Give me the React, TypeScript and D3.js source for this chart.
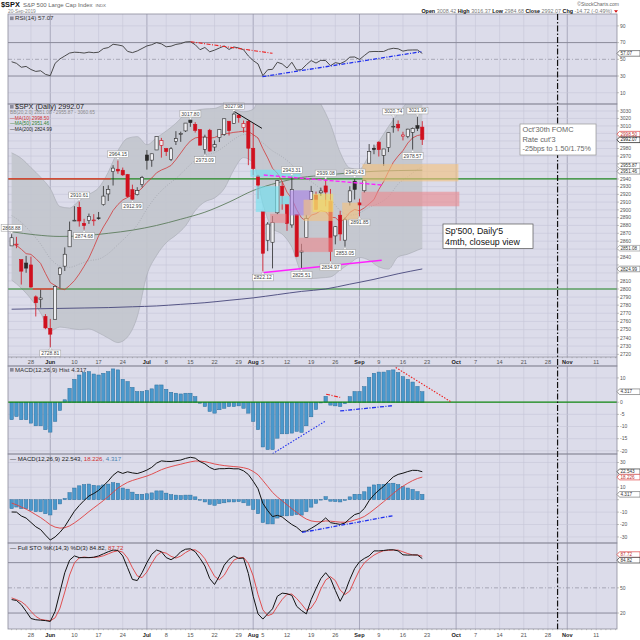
import React, { useRef, useLayoutEffect } from "react";
import * as d3 from "d3";

// trading calendar shown on the x axis (bars + projected days)
const firstDay = "2019-05-21";
const lastDay = "2019-11-15";
const holidays = ["2019-05-27", "2019-07-04", "2019-09-02"];

const prevClose = 2840.23;
const opens = [
  2854.02, 2856.06, 2836.7, 2832.41, 2830.03, 2790.25, 2786.94, 2766.15, 2751.53, 2762.64,
  2818.09, 2828.51, 2852.87, 2885.83, 2903.27, 2882.73, 2886.24, 2886.82, 2889.75, 2906.71,
  2920.55, 2949.6, 2952.71, 2951.42, 2945.78, 2926.07, 2919.66, 2932.94, 2971.41, 2964.66,
  2978.08, 2984.25, 2979.77, 2965.52, 2989.3, 2999.62, 3003.36, 3017.8, 3012.13, 3005.1,
  2978.87, 3004.26, 2981.93, 2994.74, 2998.77, 3016.26, 3013.25, 3024.47, 3007.66, 3016.22,
  2980.32, 2943.9, 2898.07, 2861.18, 2858.65, 2896.21, 2930.51, 2907.07, 2880.72, 2894.15,
  2846.2, 2864.74, 2913.48, 2919.01, 2922.04, 2930.94, 2911.07, 2866.7, 2893.14, 2861.28,
  2910.37, 2937.09, 2909.01, 2924.67, 2960.6, 2980.33, 2988.43, 2971.01, 2981.41, 3009.08,
  3012.21, 2996.41, 2995.67, 3001.5, 3010.36, 3008.42,
];
const highs = [
  2868.88, 2865.47, 2836.7, 2841.36, 2840.51, 2792.03, 2799.0, 2768.98, 2763.07, 2804.49,
  2827.28, 2852.1, 2884.97, 2904.77, 2910.61, 2888.57, 2895.24, 2894.45, 2897.27, 2930.79,
  2931.74, 2958.06, 2964.15, 2954.92, 2946.52, 2932.59, 2929.3, 2943.98, 2977.93, 2973.21,
  2995.84, 2994.03, 2980.76, 2981.9, 3002.98, 3002.33, 3013.92, 3017.8, 3015.02, 3005.26,
  2998.28, 3006.02, 2990.71, 3005.9, 3019.59, 3016.31, 3027.98, 3025.61, 3017.19, 3017.4,
  3013.59, 2945.5, 2898.07, 2884.4, 2892.17, 2938.72, 2935.75, 2907.58, 2943.31, 2894.15,
  2856.67, 2893.63, 2931.0, 2923.63, 2928.73, 2939.08, 2927.01, 2879.27, 2898.79, 2890.03,
  2930.5, 2940.43, 2914.39, 2938.84, 2985.86, 2985.03, 2989.43, 2979.39, 3000.93, 3020.74,
  3017.33, 3002.19, 3006.21, 3007.83, 3021.99, 3016.37,
];
const lows = [
  2854.02, 2851.11, 2805.49, 2820.19, 2801.58, 2766.06, 2776.74, 2750.52, 2728.81, 2762.64,
  2800.92, 2822.45, 2852.87, 2885.51, 2878.53, 2874.68, 2881.99, 2879.62, 2887.3, 2905.44,
  2911.43, 2931.5, 2946.87, 2944.05, 2916.01, 2912.99, 2918.57, 2929.05, 2952.22, 2955.92,
  2977.96, 2967.97, 2970.09, 2963.44, 2984.62, 2988.8, 3001.87, 3008.77, 3001.15, 2984.25,
  2973.09, 2975.86, 2976.65, 2988.56, 2996.82, 2997.24, 3012.59, 3014.3, 3000.94, 2958.08,
  2945.23, 2914.11, 2822.12, 2847.42, 2825.71, 2894.47, 2900.15, 2873.14, 2877.05, 2839.64,
  2825.51, 2864.74, 2913.48, 2899.6, 2917.91, 2904.51, 2834.97, 2856.0, 2860.59, 2853.05,
  2905.67, 2913.32, 2891.85, 2921.86, 2960.6, 2972.51, 2969.39, 2957.01, 2975.31, 3000.92,
  3002.9, 2990.67, 2993.73, 2978.57, 3003.16, 2984.68,
];
const closes = [
  2864.36, 2856.27, 2822.24, 2826.06, 2802.39, 2783.02, 2788.86, 2752.06, 2744.45, 2803.27,
  2826.15, 2843.49, 2873.34, 2886.73, 2885.72, 2879.84, 2891.64, 2886.98, 2889.67, 2917.75,
  2926.46, 2954.18, 2950.46, 2945.35, 2917.38, 2913.78, 2924.92, 2941.76, 2964.33, 2973.01,
  2995.82, 2990.41, 2975.95, 2979.63, 2993.07, 2999.91, 3013.77, 3014.3, 3004.04, 2984.42,
  2995.11, 2976.61, 2985.03, 3005.47, 3019.56, 3003.67, 3025.86, 3020.97, 3013.18, 2980.38,
  2953.56, 2932.05, 2844.74, 2881.77, 2883.98, 2938.09, 2918.65, 2882.7, 2926.32, 2840.6,
  2847.6, 2888.68, 2923.65, 2900.51, 2924.43, 2922.95, 2847.11, 2878.38, 2869.16, 2887.94,
  2924.58, 2926.46, 2906.27, 2937.78, 2976.0, 2978.71, 2978.43, 2979.39, 3000.93, 3009.57,
  3007.39, 2997.96, 3005.7, 3006.73, 3006.79, 2992.07,
];

const ma10 = [
  2856.9, 2854.6, 2849.8, 2844.2, 2843.3, 2838.1, 2831.9, 2819.5, 2808.0, 2804.3,
  2800.5, 2799.2, 2804.3, 2810.4, 2818.7, 2828.4, 2838.7, 2852.2, 2866.7, 2878.1,
  2888.2, 2899.2, 2906.9, 2912.8, 2916.0, 2919.4, 2922.7, 2928.2, 2935.6, 2941.2,
  2948.1, 2951.7, 2954.3, 2957.7, 2965.3, 2973.9, 2982.8, 2990.0, 2994.0, 2995.1,
  2995.1, 2993.7, 2994.6, 2997.2, 2999.8, 3000.2, 3001.4, 3002.1, 3003.0, 3002.6,
  2998.4, 2994.0, 2979.9, 2967.6, 2954.0, 2947.5, 2936.7, 2922.9, 2914.2, 2900.2,
  2889.7, 2885.3, 2893.2, 2895.1, 2899.1, 2897.6, 2890.5, 2890.0, 2884.3, 2889.0,
  2896.7, 2900.5, 2898.8, 2902.5, 2907.7, 2913.2, 2926.4, 2936.5, 2949.6, 2961.8,
  2970.1, 2977.2, 2987.2, 2994.1, 2997.2, 2998.5,
];

// long averages
const maDays = [0, 5, 10, 15, 20, 25, 30, 35, 40, 45, 50, 55, 60, 65, 70, 75, 80, 85];
const ma50 = [2872, 2868, 2866, 2867, 2870, 2874, 2880, 2888, 2897, 2910, 2925, 2935, 2942, 2945, 2948, 2950, 2951, 2951.46];
const ma200 = [2775, 2775.5, 2776, 2776.5, 2777, 2778, 2779, 2781, 2783, 2786, 2789, 2793, 2797, 2800, 2806, 2812, 2819, 2824.99];

// Bollinger bands (20,2)
const bbDays = [0, 2, 4, 6, 8, 10, 12, 14, 16, 18, 20, 22, 24, 26, 28, 30, 32, 34, 36, 38, 40, 42, 44, 46, 48, 50, 52, 54, 56, 58, 60, 62, 64, 66, 68, 70, 72, 74, 76, 78, 80, 82, 84, 85];
const bbMid = [
  2892.7, 2884.0, 2871.3, 2856.4, 2838.1, 2828.7, 2827.0, 2831.0, 2835.3, 2837.3, 2844.3, 2855.6, 2867.3, 2880.7, 2901.2,
  2918.1, 2930.6, 2940.6, 2952.7, 2964.8, 2971.6, 2974.4, 2982.5, 2992.1, 2998.5, 2996.7, 2987.3, 2976.9, 2969.1, 2958.6,
  2944.0, 2936.6, 2926.6, 2913.6, 2899.3, 2893.2, 2896.0, 2903.4, 2908.4, 2917.0, 2933.4, 2943.0, 2952.4, 2955.87,
];
const bbUpper = [
  2974.3, 2967, 2954.9, 2942.4, 2927.5, 2904.3, 2902.4, 2912, 2920, 2928.5, 2948.9, 2977, 2993.5, 2995.7, 2985,
  2994.3, 3003.2, 3013.6, 3025.9, 3030.6, 3032.8, 3033.4, 3037.7, 3032, 3029, 3032.3, 3066.9, 3077.7, 3069.3, 3064.8,
  3067.6, 3060.2, 3039.4, 3012.2, 2974.9, 2954.4, 2952.6, 2971, 2989.2, 3009.2, 3026.6, 3042.4, 3056.2, 3060.65,
];
const bbLower = [
  2811.1, 2801, 2787.7, 2770.4, 2748.7, 2753.1, 2751.6, 2750, 2750.7, 2746.1, 2739.7, 2734.2, 2741.1, 2765.7, 2817.4,
  2841.9, 2858, 2867.6, 2879.5, 2899, 2910.4, 2915.4, 2927.3, 2952, 2968, 2961.1, 2907.7, 2876.1, 2868.9, 2852.4,
  2820.4, 2813, 2813.8, 2815, 2823.7, 2832, 2839.4, 2835.8, 2827.6, 2824.8, 2840.2, 2843.6, 2848.6, 2851.08,
];

const rsi = [
  47.1, 45.2, 40.5, 41.5, 37.8, 35.5, 36.3, 32.0, 30.4, 45.2,
  50.5, 54.0, 57.5, 58.5, 58.2, 57.5, 58.6, 57.9, 58.5, 62.8,
  64.0, 68.0, 67.2, 66.0, 59.5, 58.0, 60.0, 63.0, 66.0, 67.5,
  70.0, 68.5, 65.0, 65.7, 67.8, 68.8, 70.8, 71.1, 67.5, 61.5,
  64.2, 59.0, 61.0, 63.5, 66.0, 61.8, 64.8, 63.6, 61.5, 54.0,
  48.5, 44.5, 30.4, 37.5, 38.0, 46.5, 44.5, 39.6, 46.5, 37.0,
  37.8, 43.5, 48.5, 45.5, 48.8, 48.5, 42.3, 46.0, 44.8, 47.5,
  52.6, 52.8, 49.8, 54.5, 59.0, 59.4, 59.3, 59.4, 62.0, 63.2,
  62.6, 59.8, 61.0, 61.2, 61.2, 57.07,
];

const macdHist = [
  -7.2, -5.9, -7.2, -7.2, -8.6, -9.7, -9.7, -11.3, -12.3, -7.9,
  -3.4, 1.0, 5.7, 9.4, 11.2, 12.2, 12.6, 11.6, 11.2, 11.9,
  12.6, 13.7, 13.3, 9.4, 8.5, 6.1, 4.4, 4.4, 4.8, 5.5,
  7.1, 7.1, 5.3, 4.1, 3.7, 3.4, 3.7, 3.7, 2.3, -0.4,
  -1.8, -3.8, -4.5, -3.1, -2.5, -1.8, -1.8, -1.5, -2.5, -4.5,
  -7.9, -11.3, -18.4, -19.5, -19.5, -14.8, -13.0, -13.0, -12.7, -12.0,
  -12.4, -9.7, -6.0, -3.0, -0.3, 2.4, -1.2, -1.5, -1.8, -0.6,
  2.3, 4.4, 4.4, 6.4, 10.2, 11.9, 12.4, 12.4, 13.0, 13.3,
  12.2, 10.5, 9.4, 8.3, 6.5, 4.317,
];
const macdLine = [
  -9.9, -10.0, -13.1, -14.8, -18.3, -21.8, -24.1, -28.5, -32.5, -30.0,
  -26.3, -21.6, -15.4, -9.3, -4.7, -0.6, 3.0, 5.0, 7.5, 11.2,
  15.1, 19.7, 22.7, 21.2, 22.5, 21.6, 21.1, 22.3, 23.9, 26.1,
  29.5, 31.3, 30.9, 30.8, 31.4, 32.0, 33.3, 34.2, 33.5, 30.7,
  28.9, 26.0, 24.3, 25.0, 25.0, 25.3, 24.9, 24.9, 23.3, 20.3,
  14.9, 8.8, -2.9, -8.8, -13.6, -12.6, -13.9, -17.1, -20.0, -22.2,
  -25.6, -25.3, -23.1, -20.7, -18.1, -14.7, -18.5, -19.2, -19.9, -18.8,
  -15.2, -12.0, -10.8, -7.1, -0.7, 4.0, 7.6, 10.8, 14.7, 18.4,
  20.4, 21.4, 22.7, 23.7, 23.6, 22.543,
];
const macdSignal = [
  -2.7, -4.1, -5.9, -7.6, -9.7, -12.1, -14.4, -17.2, -20.2, -22.1,
  -22.9, -22.6, -21.1, -18.7, -15.9, -12.8, -9.6, -6.6, -3.7, -0.7,
  2.5, 6.0, 9.4, 11.8, 14.0, 15.5, 16.7, 17.9, 19.1, 20.6,
  22.4, 24.2, 25.6, 26.7, 27.7, 28.6, 29.6, 30.5, 31.2, 31.1,
  30.7, 29.8, 28.8, 28.1, 27.5, 27.1, 26.7, 26.4, 25.8, 24.8,
  22.8, 20.1, 15.5, 10.7, 5.9, 2.2, -0.9, -4.1, -7.3, -10.2,
  -13.2, -15.6, -17.1, -17.7, -17.8, -17.1, -17.3, -17.7, -18.1, -18.2,
  -17.5, -16.4, -15.2, -13.5, -10.9, -7.9, -4.8, -1.6, 1.7, 5.1,
  8.2, 10.9, 13.3, 15.4, 17.1, 18.226,
];

const stoK = [
  36, 35, 30, 22, 13.5, 12, 11.5, 11, 10, 22,
  45, 68, 83, 88, 86, 86, 86, 86.5, 88, 90.5,
  93, 95, 94.5, 88, 74, 60, 58.7, 68, 80, 90,
  95, 93, 86, 83.5, 87, 93, 96, 96.5, 93, 85,
  76, 61, 54, 64, 77, 84, 88, 85, 85.5, 67,
  40, 19, 12.8, 19, 25, 40, 43.7, 43, 41, 28,
  23, 19, 36, 49, 61, 68, 61, 47, 34, 45,
  60, 73, 81, 85, 88, 94, 94, 94.5, 95.3, 95.3,
  94, 89.3, 89, 89.2, 89.1, 84.82,
];
const stoD = [
  38, 36, 33.5, 29, 22, 16, 12.5, 11.5, 10.8, 14.3,
  25.7, 45, 65.3, 79.7, 85.7, 86.7, 86, 86.2, 86.8, 88.2,
  90.5, 92.8, 94.2, 92.5, 85.5, 74, 64.2, 62.2, 68.9, 79.3,
  88.3, 92.7, 91.3, 87.5, 85.5, 87.8, 92, 95.2, 95.2, 91.5,
  84.7, 74, 63.7, 59.7, 65, 75, 83, 85.7, 86.2, 79.2,
  64.2, 42, 23.9, 16.9, 18.9, 28, 36.2, 42.2, 42.6, 37.3,
  30.7, 23.3, 26, 34.7, 48.7, 59.3, 63.3, 58.7, 47.3, 42,
  46.3, 59.3, 71.3, 79.7, 84.7, 89, 92, 94.2, 94.6, 95,
  94.9, 92.9, 90.8, 89.2, 89.1, 87.72,
];

const dateTicks: [string, string][] = [
  ["2019-05-28", "28"], ["2019-06-03", "Jun"], ["2019-06-10", "10"], ["2019-06-17", "17"], ["2019-06-24", "24"],
  ["2019-07-01", "Jul"], ["2019-07-08", "8"], ["2019-07-15", "15"], ["2019-07-22", "22"], ["2019-07-29", "29"],
  ["2019-08-01", "Aug"], ["2019-08-05", "5"], ["2019-08-12", "12"], ["2019-08-19", "19"], ["2019-08-26", "26"],
  ["2019-09-03", "Sep"], ["2019-09-09", "9"], ["2019-09-16", "16"], ["2019-09-23", "23"],
  ["2019-10-01", "Oct"], ["2019-10-07", "7"], ["2019-10-14", "14"], ["2019-10-21", "21"], ["2019-10-28", "28"],
  ["2019-11-01", "Nov"], ["2019-11-11", "11"],
];
const monthLabels = ["Jun", "Jul", "Aug", "Sep", "Oct", "Nov"];
const eventDay = "2019-10-30";

const priceTicks = [
  2720, 2730, 2740, 2750, 2760, 2770, 2780, 2790, 2800, 2810, 2820, 2830, 2840, 2850, 2860, 2870,
  2880, 2890, 2900, 2910, 2920, 2930, 2940, 2950, 2960, 2970, 2980, 2990, 3000, 3010, 3020, 3030,
];
const rsiTicks = [90, 70, 50, 30, 10];
const histTicks = [10, 0, -5, -10, -15, -20];
const macdTicks = [30, 20, 10, 0, -10, -20, -30];
const stoTicks = [80, 50, 20];

// last values shown as tags on the right axis
const priceTags = [2998.5, 2992.07, 2955.87, 2951.46, 2851.08, 2824.99];
const macdTags = [22.543, 18.226, 4.317];
const stoTags = [87.72, 84.82];

// labelled swing highs / lows
const swingDays = [0, 8, 14, 15, 22, 25, 37, 40, 46, 52, 58, 60, 65, 66, 69, 71, 72, 79, 83, 84];
const swingIsHigh = [1, 0, 1, 0, 1, 0, 1, 0, 1, 0, 1, 0, 1, 0, 0, 1, 0, 1, 0, 1];

// hand-drawn zones: [day0, day1, price0, price1, kind]
const zones: [number, number, number, number, string][] = [
  [49.5, 59.7, 2951.7, 2943.0, "cyan"],
  [50.6, 55.2, 2930.0, 2897.6, "cyan"],
  [55.6, 57.4, 2917.0, 2907.5, "cyan"],
  [57.6, 61.8, 2924.7, 2893.3, "purple"],
  [53.6, 56.8, 2894.6, 2883.5, "red"],
  [60.5, 66.5, 2912.7, 2886.0, "orange"],
  [62.4, 66.5, 2920.4, 2897.6, "yellow"],
  [59.5, 66.5, 2864.0, 2846.6, "red"],
  [68.5, 71.7, 2908.8, 2887.0, "orange"],
  [72.7, 92.4, 2959.2, 2937.3, "orange"],
  [72.5, 92.6, 2923.0, 2905.0, "red"],
];
// hand-drawn trend lines: [day0, value0, day1, value1, kind]
const priceLines: [number, number, number, number, string][] = [
  [45.9, 3030, 51.8, 3006.8, "black"],
  [52.2, 2945.2, 76.7, 2932.1, "magentaDash"],
  [51.8, 2820.3, 76.6, 2836.0, "magenta"],
  [-0.75, 2800, 125.3, 2800, "green"],
  [4.4, 2800, 8.6, 2800, "red"],
  [-0.75, 2940, 125.3, 2940, "green"],
  [-0.75, 2940, 20.5, 2940, "red"],
];
const rsiLines: [number, number, number, number, string][] = [
  [37.06, 71.1, 54.0, 57.2, "redDash"],
  [51.9, 29.2, 84.8, 59.1, "blueDash"],
];
const histLines: [number, number, number, number, string][] = [
  [79.5, 14.3, 90.9, 0.2, "redDot"],
  [65.1, 3.3, 68.0, 2.0, "redDash"],
  [68.0, -3.6, 79.0, -1.4, "blueDash"],
  [54.0, -21.2, 65.0, -7.7, "blueDot"],
];
const macdLines: [number, number, number, number, string][] = [[60.1, -26.4, 78.9, -12.9, "blueDash"]];

const zoneStyle: Record<string, string> = {
  cyan: "#6fe3f2",
  purple: "#a982e6",
  red: "#ec8a8f",
  orange: "#f4c27e",
  yellow: "#f3df62",
};
const lineStyle: Record<string, { c: string; w: number; dash: string | null }> = {
  black: { c: "#111", w: 1, dash: null },
  magentaDash: { c: "#ff20ff", w: 1.4, dash: "4,2" },
  magenta: { c: "#ff20ff", w: 1.4, dash: null },
  green: { c: "#228822", w: 1.2, dash: null },
  red: { c: "#ff3030", w: 1.2, dash: null },
  redDash: { c: "#ee2020", w: 1.1, dash: "4,1.5,1,1.5" },
  blueDash: { c: "#2030ee", w: 1.3, dash: "4,1.5,1,1.5" },
  redDot: { c: "#ee2020", w: 1.1, dash: "1.5,1.5" },
  blueDot: { c: "#2030ee", w: 1.1, dash: "1.5,1.5" },
};

const LEFT = 8;
const RIGHT = 617;
const BG = "#dcdcea";
const FONT = "'Liberation Sans', Arial, sans-serif";

function tradingDays(): string[] {
  const out: string[] = [];
  const d = new Date(firstDay + "T12:00:00Z");
  const end = new Date(lastDay + "T12:00:00Z");
  while (d.getTime() <= end.getTime()) {
    const wd = d.getUTCDay();
    const s = d.toISOString().slice(0, 10);
    if (wd !== 0 && wd !== 6 && holidays.indexOf(s) < 0) out.push(s);
    d.setUTCDate(d.getUTCDate() + 1);
  }
  return out;
}

const App: React.FC = () => {
  const svgRef = useRef<SVGSVGElement>(null);

  useLayoutEffect(() => {
    if (!svgRef.current) return;
    const svg = d3.select(svgRef.current);
    svg.selectAll("*").remove();

    const days = tradingDays();
    const dayIndex = (s: string) => days.indexOf(s);

    const x = d3.scaleLinear().domain([-0.75, 125.3]).range([LEFT, RIGHT]);
    const yRsi = d3.scaleLinear().domain([-3.5, 104.25]).range([104, 14]);
    const yP = d3.scaleLog().domain([2716.8, 3039.4]).range([357, 104]);
    const yHist = d3.scaleLinear().domain([-21.3, 14.9]).range([454, 366]);
    const yMacd = d3.scaleLinear().domain([-34.9, 36.85]).range([543, 454]);
    const ySto = d3.scaleLinear().domain([1.0, 103.4]).range([629, 543]);

    const panels = [
      { key: "rsi", top: 14, bottom: 104 },
      { key: "price", top: 104, bottom: 357 },
      { key: "hist", top: 366, bottom: 454 },
      { key: "macd", top: 454, bottom: 543 },
      { key: "sto", top: 543, bottom: 629 },
    ];
    const frames = [
      [14, 104],
      [104, 366],
      [366, 454],
      [454, 543],
      [543, 629],
    ];

    svg.append("rect").attr("width", 640).attr("height", 640).attr("fill", "#fff");

    const defs = svg.append("defs");
    panels.forEach((p) => {
      defs
        .append("clipPath")
        .attr("id", "clip-" + p.key)
        .append("rect")
        .attr("x", LEFT)
        .attr("y", p.top)
        .attr("width", RIGHT - LEFT)
        .attr("height", p.bottom - p.top);
    });

    // panel backgrounds (price panel includes its date strip)
    frames.forEach(([t, b]) => {
      svg.append("rect").attr("x", LEFT).attr("y", t).attr("width", RIGHT - LEFT).attr("height", b - t).attr("fill", BG);
    });

    const grid = svg.append("g");
    // vertical grid
    dateTicks.forEach(([d, label]) => {
      const xi = x(dayIndex(d));
      const isMonth = monthLabels.indexOf(label) >= 0;
      panels.forEach((p) => {
        grid
          .append("line")
          .attr("x1", xi)
          .attr("x2", xi)
          .attr("y1", p.top)
          .attr("y2", p.bottom)
          .attr("stroke", isMonth ? "#a4a4b8" : "#c6c6d8")
          .attr("stroke-width", isMonth ? 0.9 : 0.6);
      });
    });

    const hGrid = (vals: number[], ys: (v: number) => number, color = "#c6c6d8", w = 0.6) => {
      vals.forEach((v) => {
        grid.append("line").attr("x1", LEFT).attr("x2", RIGHT).attr("y1", ys(v)).attr("y2", ys(v)).attr("stroke", color).attr("stroke-width", w);
      });
    };
    const midLine = (yy: number) =>
      grid
        .append("line")
        .attr("x1", LEFT)
        .attr("x2", RIGHT)
        .attr("y1", yy)
        .attr("y2", yy)
        .attr("stroke", "#9a9aaa")
        .attr("stroke-width", 0.8)
        .attr("stroke-dasharray", "4,2,1,2");
    hGrid(priceTicks, yP);
    hGrid([90, 10], yRsi);
    hGrid([70, 30], yRsi, "#8a8a9a", 1);
    midLine(yRsi(50));
    hGrid(histTicks, yHist);
    hGrid(macdTicks, yMacd);
    hGrid([80, 20], ySto, "#8a8a9a", 1);
    midLine(ySto(50));

    // ---------- price panel ----------
    const pg = svg.append("g").attr("clip-path", "url(#clip-price)");

    const band = d3
      .area<number>()
      .x((_, k) => x(bbDays[k]))
      .y0((_, k) => yP(bbLower[k]))
      .y1((_, k) => yP(bbUpper[k]))
      .curve(d3.curveMonotoneX);
    pg.append("path").attr("d", band(bbMid) as string).attr("fill", "#c2c5cd").attr("opacity", 0.9);
    const bbLine = (vals: number[]) =>
      d3
        .line<number>()
        .x((_, k) => x(bbDays[k]))
        .y((v) => yP(v))
        .curve(d3.curveMonotoneX)(vals) as string;
    pg.append("path").attr("d", bbLine(bbUpper)).attr("fill", "none").attr("stroke", "#a6aab2").attr("stroke-width", 0.6);
    pg.append("path").attr("d", bbLine(bbLower)).attr("fill", "none").attr("stroke", "#a6aab2").attr("stroke-width", 0.6);
    pg.append("path").attr("d", bbLine(bbMid)).attr("fill", "none").attr("stroke", "#999ca4").attr("stroke-width", 0.6).attr("stroke-dasharray", "1,1.5");

    const drawLines = (g: any, list: [number, number, number, number, string][], ys: (v: number) => number) => {
      list.forEach(([d0, v0, d1, v1, kind]) => {
        const st = lineStyle[kind];
        g.append("line")
          .attr("x1", x(d0))
          .attr("y1", ys(v0))
          .attr("x2", x(d1))
          .attr("y2", ys(v1))
          .attr("stroke", st.c)
          .attr("stroke-width", st.w)
          .attr("stroke-dasharray", st.dash);
      });
    };
    // horizontal support lines under the bars
    drawLines(pg, priceLines.filter((l) => l[4] === "green" || l[4] === "red"), yP);

    const maLine = (vals: number[], xs: number[] | null) =>
      d3
        .line<number>()
        .x((_, k) => x(xs ? xs[k] : k))
        .y((v) => yP(v))
        .curve(xs ? d3.curveMonotoneX : d3.curveLinear)(vals) as string;
    pg.append("path").attr("d", maLine(ma200, maDays)).attr("fill", "none").attr("stroke", "#46467a").attr("stroke-width", 0.9);
    pg.append("path").attr("d", maLine(ma50, maDays)).attr("fill", "none").attr("stroke", "#5d7d5d").attr("stroke-width", 0.9);
    pg.append("path").attr("d", maLine(ma10, null)).attr("fill", "none").attr("stroke", "#d23a3a").attr("stroke-width", 0.8);

    // candles: colour vs previous close, filled when close < open
    closes.forEach((c, i) => {
      const o = opens[i];
      const pc = i === 0 ? prevClose : closes[i - 1];
      const col = c >= pc ? "#2a2a2a" : "#d0101e";
      const cx = x(i);
      pg.append("line").attr("x1", cx).attr("x2", cx).attr("y1", yP(highs[i])).attr("y2", yP(lows[i])).attr("stroke", col).attr("stroke-width", 0.8);
      const top = yP(Math.max(o, c));
      const bot = yP(Math.min(o, c));
      pg.append("rect")
        .attr("x", cx - 1.6)
        .attr("width", 3.2)
        .attr("y", top)
        .attr("height", Math.max(0.8, bot - top))
        .attr("fill", c < o ? col : "#eeeef2")
        .attr("stroke", col)
        .attr("stroke-width", 0.6);
    });

    // zones
    zones.forEach(([d0, d1, p0, p1, kind]) => {
      pg.append("rect")
        .attr("x", x(d0))
        .attr("width", x(d1) - x(d0))
        .attr("y", yP(p0))
        .attr("height", yP(p1) - yP(p0))
        .attr("fill", zoneStyle[kind])
        .attr("opacity", 0.62)
        .attr("stroke", zoneStyle[kind])
        .attr("stroke-width", 0.6);
    });
    drawLines(pg, priceLines.filter((l) => l[4] !== "green" && l[4] !== "red"), yP);

    // swing labels
    swingDays.forEach((d, k) => {
      const hi = swingIsHigh[k] === 1;
      const v = hi ? highs[d] : lows[d];
      const txt = v.toFixed(2);
      const cx = x(d);
      const py = yP(v);
      const w = 21;
      const h = 6.6;
      const by = hi ? py - 3 - h : py + 3;
      const g = svg.append("g");
      g.append("path")
        .attr("d", hi ? `M${cx - 2},${by + h} L${cx},${py - 0.5} L${cx + 2},${by + h}Z` : `M${cx - 2},${by} L${cx},${py + 0.5} L${cx + 2},${by}Z`)
        .attr("fill", "#fff")
        .attr("stroke", "#999")
        .attr("stroke-width", 0.4);
      g.append("rect").attr("x", cx - w / 2).attr("y", by).attr("width", w).attr("height", h).attr("fill", "#fff").attr("stroke", "#9a9a9a").attr("stroke-width", 0.5);
      g.append("text")
        .attr("x", cx)
        .attr("y", by + h - 1.5)
        .attr("text-anchor", "middle")
        .attr("font-size", 5)
        .attr("font-family", FONT)
        .attr("fill", "#444")
        .text(txt);
    });

    // ---------- RSI ----------
    const rg = svg.append("g").attr("clip-path", "url(#clip-rsi)");
    rg.append("path")
      .attr("d", d3.line<number>().x((_, k) => x(k)).y((v) => yRsi(v))(rsi) as string)
      .attr("fill", "none")
      .attr("stroke", "#3a3a3a")
      .attr("stroke-width", 0.9);
    drawLines(rg, rsiLines, yRsi);

    // ---------- MACD histogram ----------
    const bars = (g: any, ys: (v: number) => number) => {
      macdHist.forEach((v, i) => {
        const y0 = ys(0);
        const y1 = ys(v);
        g.append("rect")
          .attr("x", x(i) - 1.7)
          .attr("width", 3.4)
          .attr("y", Math.min(y0, y1))
          .attr("height", Math.abs(y1 - y0))
          .attr("fill", "#4a98cc")
          .attr("stroke", "#2f6e9c")
          .attr("stroke-width", 0.5);
      });
    };
    const hg = svg.append("g").attr("clip-path", "url(#clip-hist)");
    bars(hg, yHist);
    hg.append("line").attr("x1", LEFT).attr("x2", RIGHT).attr("y1", yHist(0)).attr("y2", yHist(0)).attr("stroke", "#118811").attr("stroke-width", 1.3);
    drawLines(hg, histLines, yHist);

    // ---------- MACD ----------
    const mg = svg.append("g").attr("clip-path", "url(#clip-macd)");
    bars(mg, yMacd);
    const mLine = (vals: number[]) => d3.line<number>().x((_, k) => x(k)).y((v) => yMacd(v))(vals) as string;
    mg.append("path").attr("d", mLine(macdSignal)).attr("fill", "none").attr("stroke", "#e04040").attr("stroke-width", 0.9);
    mg.append("path").attr("d", mLine(macdLine)).attr("fill", "none").attr("stroke", "#111").attr("stroke-width", 1);
    drawLines(mg, macdLines, yMacd);

    // ---------- Stochastics ----------
    const sg = svg.append("g").attr("clip-path", "url(#clip-sto)");
    const sLine = (vals: number[]) => d3.line<number>().x((_, k) => x(k)).y((v) => ySto(v))(vals) as string;
    sg.append("path").attr("d", sLine(stoD)).attr("fill", "none").attr("stroke", "#e04040").attr("stroke-width", 0.9);
    sg.append("path").attr("d", sLine(stoK)).attr("fill", "none").attr("stroke", "#111").attr("stroke-width", 1);

    // panel borders
    frames.forEach(([t, b]) => {
      svg.append("rect").attr("x", LEFT).attr("y", t).attr("width", RIGHT - LEFT).attr("height", b - t).attr("fill", "none").attr("stroke", "#8c8c9c").attr("stroke-width", 0.8);
    });
    svg.append("line").attr("x1", LEFT).attr("x2", RIGHT).attr("y1", 357).attr("y2", 357).attr("stroke", "#8c8c9c").attr("stroke-width", 0.7);

    // event line
    const ex = x(dayIndex(eventDay));
    svg.append("line").attr("x1", ex).attr("x2", ex).attr("y1", 14).attr("y2", 629).attr("stroke", "#111").attr("stroke-width", 1.2).attr("stroke-dasharray", "6,2,1.5,2");

    // date axes
    const dateAxis = (lineY: number, labelY: number) => {
      days.forEach((_, i) => {
        svg.append("line").attr("x1", x(i)).attr("x2", x(i)).attr("y1", lineY).attr("y2", lineY + 1.2).attr("stroke", "#888").attr("stroke-width", 0.5);
      });
      dateTicks.forEach(([d, label]) => {
        const isMonth = monthLabels.indexOf(label) >= 0;
        svg
          .append("text")
          .attr("x", x(dayIndex(d)))
          .attr("y", labelY)
          .attr("text-anchor", "middle")
          .attr("font-size", 5.6)
          .attr("font-family", FONT)
          .attr("font-weight", isMonth ? "bold" : "normal")
          .attr("fill", isMonth ? "#222" : "#555")
          .text(label);
      });
    };
    dateAxis(357, 364);
    dateAxis(629, 636.5);

    // right axes; tick labels hidden where a value tag sits on top of them
    const axisLabels = (vals: number[], ys: (v: number) => number, tagVals: number[]) => {
      vals.forEach((v) => {
        svg.append("line").attr("x1", RIGHT).attr("x2", RIGHT + 2).attr("y1", ys(v)).attr("y2", ys(v)).attr("stroke", "#888").attr("stroke-width", 0.5);
        if (tagVals.some((t) => Math.abs(ys(t) - ys(v)) < 5.5)) return;
        svg
          .append("text")
          .attr("x", RIGHT + 3)
          .attr("y", ys(v) + 1.8)
          .attr("font-size", 5)
          .attr("font-family", FONT)
          .attr("fill", "#555")
          .text(String(v));
      });
    };
    axisLabels(priceTicks, yP, priceTags);
    axisLabels(rsiTicks, yRsi, [57.07]);
    axisLabels(histTicks, yHist, [4.317]);
    axisLabels(macdTicks, yMacd, macdTags);
    axisLabels(stoTicks, ySto, stoTags);

    const tag = (y: number, text: string, stroke: string, color = "#333") => {
      svg
        .append("path")
        .attr("d", `M${RIGHT},${y} L${RIGHT + 2.5},${y - 2.8} L${RIGHT + 23},${y - 2.8} L${RIGHT + 23},${y + 2.8} L${RIGHT + 2.5},${y + 2.8}Z`)
        .attr("fill", "#fff")
        .attr("stroke", stroke)
        .attr("stroke-width", 0.7);
      svg
        .append("text")
        .attr("x", RIGHT + 3.5)
        .attr("y", y + 1.6)
        .attr("font-size", 4.6)
        .attr("font-family", FONT)
        .attr("fill", color)
        .text(text);
    };
    tag(yRsi(57.07), "57.07", "#555");
    tag(yP(2824.99), "2824.99", "#777");
    tag(yP(2851.08), "2851.08", "#999");
    tag(yP(2951.46) + 1.1, "2951.46", "#777");
    tag(yP(2955.87) - 1.1, "2955.87", "#999");
    tag(yP(2998.5) - 0.4, "2998.50", "#e04040", "#c03030");
    tag(yP(2992.07) + 0.4, "2992.07", "#111", "#111");
    tag(yHist(4.317), "4.317", "#777");
    tag(yMacd(22.543), "22.543", "#333");
    tag(yMacd(18.226), "18.226", "#e04040", "#c03030");
    tag(yMacd(4.317), "4.317", "#777");
    tag(ySto(87.72) - 1.6, "87.72", "#e04040", "#c03030");
    tag(ySto(84.82) + 1.6, "84.82", "#333");

    // ---------- text ----------
    const text = (tx: number, ty: number, s: string, size: number, fill: string, weight = "normal", anchor = "start") =>
      svg
        .append("text")
        .attr("x", tx)
        .attr("y", ty)
        .attr("font-size", size)
        .attr("font-family", FONT)
        .attr("font-weight", weight)
        .attr("fill", fill)
        .attr("text-anchor", anchor)
        .text(s);

    text(1, 7, "$SPX", 7.4, "#111", "bold");
    text(23, 7, "S&P 500 Large Cap Index", 6.0, "#666");
    text(95.5, 7, "INDX", 4.4, "#666");
    text(8, 13.4, "20-Sep-2019", 4.8, "#888");
    text(619, 6, "©StockCharts.com", 5, "#666", "normal", "end");

    const hdr = svg.append("text").attr("x", 612).attr("y", 12.6).attr("font-size", 5.4).attr("font-family", FONT).attr("text-anchor", "end");
    [
      ["Open ", "bold", "#111"],
      ["3008.42 ", "normal", "#777"],
      ["High ", "bold", "#111"],
      ["3016.37 ", "normal", "#777"],
      ["Low ", "bold", "#111"],
      ["2984.68 ", "normal", "#777"],
      ["Close ", "bold", "#111"],
      ["2992.07 ", "normal", "#777"],
      ["Chg ", "bold", "#111"],
      ["-14.72 (-0.49%)", "normal", "#777"],
    ].forEach(([s, w, c]) => hdr.append("tspan").attr("font-weight", w).attr("fill", c).text(s));
    svg.append("path").attr("d", "M614,10.2 L618,10.2 L616,12.8Z").attr("fill", "#d01010");

    const icon = (ix: number, iy: number) =>
      svg.append("rect").attr("x", ix).attr("y", iy).attr("width", 3.6).attr("height", 3.6).attr("fill", "#8a8a9a");

    icon(10, 16.5);
    text(15, 20.4, "RSI(14) 57.07", 6.2, "#333");

    icon(10, 105);
    text(15, 109, "$SPX (Daily) 2992.07", 7.2, "#222");
    text(10, 114.3, "BB(20,2.0) 2851.08 - 2955.87 - 3060.65", 4.8, "#8a8a8a");
    text(10, 119.8, "—MA(10) 2998.50", 4.8, "#d03030");
    text(10, 125.3, "—MA(50) 2951.46", 4.8, "#2f7f2f");
    text(10, 130.8, "—MA(200) 2824.99", 4.8, "#222");

    icon(10, 368);
    text(15, 372, "MACD(12,26,9) Hist 4.317", 6.1, "#333");

    const mt = svg.append("text").attr("x", 10).attr("y", 460.5).attr("font-size", 6.1).attr("font-family", FONT);
    mt.append("tspan").attr("fill", "#222").text("— MACD(12,26,9) 22.543, ");
    mt.append("tspan").attr("fill", "#d03030").text("18.226");
    mt.append("tspan").attr("fill", "#4a80b0").text(", 4.317");

    const st = svg.append("text").attr("x", 10).attr("y", 549.5).attr("font-size", 6.1).attr("font-family", FONT);
    st.append("tspan").attr("fill", "#222").text("— Full STO %K(14,3) %D(3) 84.82, ");
    st.append("tspan").attr("fill", "#d03030").text("87.72");

    // annotation boxes
    svg.append("rect").attr("x", 520).attr("y", 124).attr("width", 76).attr("height", 31).attr("fill", "#fff").attr("stroke", "#999").attr("stroke-width", 0.7);
    text(522.5, 132, "Oct'30th FOMC", 7.4, "#666");
    text(522.5, 141.5, "Rate cut'3", 7.4, "#666");
    text(522.5, 151, "-25bps to 1.50/1.75%", 7.2, "#666");

    svg.append("rect").attr("x", 443).attr("y", 224).attr("width", 90).attr("height", 24.5).attr("fill", "#fff").attr("stroke", "#555").attr("stroke-width", 0.7);
    text(445, 234.2, "Sp'500, Daily'5", 8.8, "#111");
    text(445, 244.5, "4mth, closeup view", 8.8, "#111");
  }, []);

  return (
    <div style={{ position: "absolute", left: 0, top: 0, width: 640, height: 640, background: "#fff" }}>
      <svg ref={svgRef} width={640} height={640} style={{ display: "block" }} />
    </div>
  );
};

export default App;
